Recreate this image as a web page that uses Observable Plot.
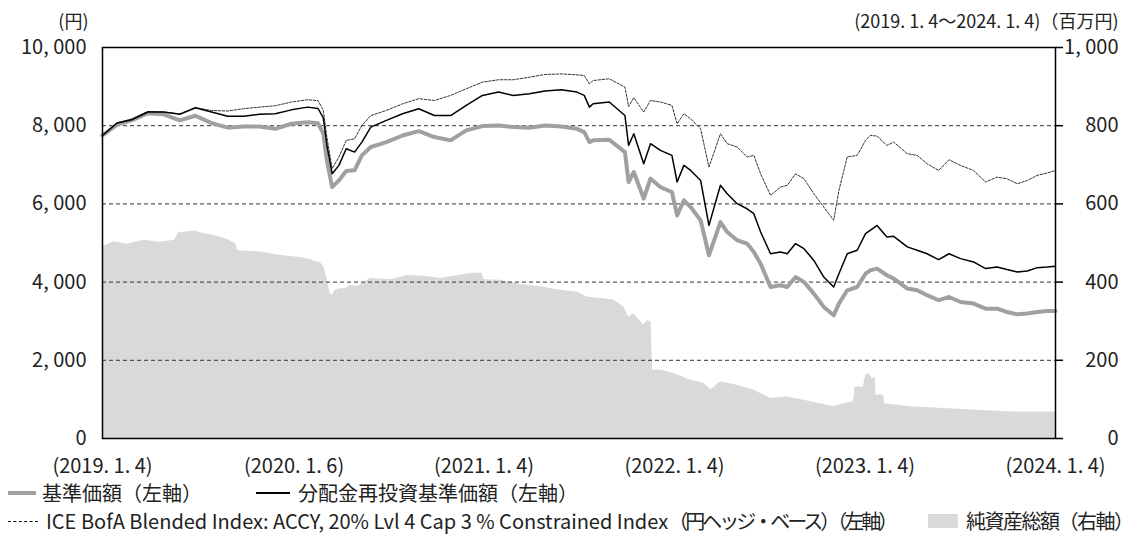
<!DOCTYPE html>
<html><head><meta charset="utf-8">
<script src="https://cdn.jsdelivr.net/npm/d3@7"></script>
<script src="https://cdn.jsdelivr.net/npm/@observablehq/plot@0.6"></script>
<style>
body{margin:0;background:#fff;font-family:"Noto Sans CJK JP","Noto Sans",sans-serif;}
#wrap{position:relative;width:1145px;height:546px;overflow:hidden;}
#chart{position:absolute;left:0;top:0;}
.lg{position:absolute;font-size:20px;color:#222;white-space:nowrap;line-height:24px;height:24px;}
.tight{letter-spacing:-3px;}
.sw{position:absolute;}
</style></head><body><div id="wrap"><div id="chart"></div>
<div class="sw" style="left:8px;top:491px;width:28px;height:4px;background:#a0a0a0"></div>
<div class="lg" style="left:42px;top:481px">基準価額（左軸）</div>
<div class="sw" style="left:256px;top:492px;width:34px;height:1.5px;background:#000"></div>
<div class="lg" style="left:298px;top:481px">分配金再投資基準価額（左軸）</div>
<div class="sw" style="left:8px;top:521px;width:30px;height:0;border-top:1px dashed #000"></div>
<div class="lg" style="left:46px;top:509px">ICE BofA Blended Index: ACCY, 20% Lvl 4 Cap 3 % Constrained Index<span class="tight">（円ヘッジ・ベース）（左軸）</span></div>
<div class="sw" style="left:928px;top:514px;width:30px;height:14px;background:#d9d9d9"></div>
<div class="lg" style="left:966px;top:509px;letter-spacing:-1.5px">純資産総額（右軸）</div>
</div>
<script>
// Shared sample dates for the three price lines
const dates = ["2019-01-04","2019-02-01","2019-03-01","2019-04-01","2019-05-01","2019-06-01","2019-07-01","2019-08-01","2019-09-01","2019-10-01","2019-11-01","2019-12-01",
"2020-01-01","2020-02-01","2020-02-21","2020-03-02","2020-03-09","2020-03-19","2020-04-01","2020-04-15","2020-05-01","2020-05-15","2020-06-01","2020-07-01","2020-08-01","2020-09-01","2020-10-01","2020-11-01","2020-12-01",
"2021-01-01","2021-02-01","2021-03-01","2021-04-01","2021-05-01","2021-06-01","2021-07-01","2021-07-15","2021-07-25","2021-08-01","2021-09-01","2021-10-01","2021-10-08","2021-10-18","2021-11-06","2021-11-19","2021-12-08","2021-12-30",
"2022-01-09","2022-01-22","2022-02-04","2022-02-23","2022-03-11","2022-04-02","2022-04-15","2022-05-04","2022-05-23","2022-06-05","2022-06-18","2022-07-07","2022-07-26","2022-08-08","2022-08-24","2022-09-09","2022-09-28","2022-10-17","2022-11-05","2022-11-15","2022-12-01","2022-12-20",
"2023-01-05","2023-01-14","2023-01-27","2023-02-15","2023-02-28","2023-03-26","2023-04-14","2023-05-03","2023-05-25","2023-06-14","2023-07-06","2023-07-31","2023-08-23","2023-09-14","2023-10-03","2023-10-23","2023-11-11","2023-11-30","2023-12-19","2024-01-04"];
// 基準価額 (yen)
const navPrice = [7750,8030,8135,8320,8290,8135,8255,8065,7950,7980,7980,7920,
8050,8090,8060,7800,7100,6430,6600,6840,6860,7240,7455,7580,7750,7860,7710,7625,7880,
7990,8005,7965,7945,8005,7980,7920,7835,7580,7625,7640,7325,6560,6815,6135,6645,6430,6305,
5705,6090,5920,5580,4685,5535,5280,5070,4985,4770,4470,3875,3920,3875,4130,4005,3705,3365,3150,3450,3790,3875,
4215,4300,4345,4175,4090,3835,3790,3665,3535,3620,3490,3450,3320,3320,3235,3175,3195,3235,3260,3260];
// 分配金再投資基準価額 (yen)
const reinvPrice = [7750,8070,8150,8350,8350,8290,8460,8350,8240,8240,8290,8305,
8405,8475,8440,8200,7500,6770,6985,7410,7325,7580,7965,8135,8305,8435,8260,8260,8520,
8775,8860,8775,8815,8885,8920,8860,8775,8475,8560,8605,8260,7495,7795,7025,7540,7370,7240,
6560,6985,6855,6600,5450,6475,6260,6005,5875,5750,5280,4725,4770,4725,4985,4855,4555,4130,3875,4215,4725,4815,
5240,5325,5450,5155,5170,4900,4815,4725,4575,4725,4600,4515,4345,4385,4320,4260,4285,4370,4385,4405];
// ICE BofA Blended Index (yen hedged, rebased)
const indexPrice = [7750,8070,8170,8365,8350,8305,8460,8390,8375,8435,8475,8510,
8605,8665,8640,8400,7700,6900,7200,7625,7665,8005,8260,8390,8560,8690,8645,8775,8945,
9115,9175,9175,9240,9310,9325,9300,9285,9070,9155,9200,8985,8490,8715,8350,8645,8605,8520,
8050,8305,8175,7920,6940,7795,7540,7455,7200,7240,6770,6220,6430,6475,6770,6645,6260,5920,5580,6345,7200,7240,
7625,7750,7735,7495,7580,7285,7240,7025,6855,7130,6985,6855,6560,6685,6645,6515,6600,6730,6790,6855];
// 純資産総額 (million yen)
const navDates = ["2019-01-04","2019-01-26","2019-02-20","2019-03-24","2019-04-25","2019-05-22","2019-05-30","2019-07-01","2019-07-11","2019-08-05","2019-08-31","2019-09-16","2019-09-20","2019-11-03","2019-12-11",
"2020-01-18","2020-02-07","2020-02-26","2020-03-03","2020-03-10","2020-03-15","2020-03-19","2020-03-25","2020-04-04","2020-04-14","2020-04-23","2020-05-06","2020-05-31","2020-07-09","2020-08-10","2020-09-11","2020-10-13","2020-11-14","2020-12-09","2020-12-31",
"2021-01-04","2021-02-05","2021-03-15","2021-04-22","2021-05-31","2021-07-01","2021-07-21","2021-08-15","2021-09-10","2021-09-29","2021-10-08","2021-10-18","2021-11-06","2021-11-13","2021-11-20","2021-11-23","2021-12-08",
"2022-01-03","2022-01-15","2022-02-04","2022-03-01","2022-03-15","2022-04-02","2022-05-04","2022-06-05","2022-07-07","2022-08-08","2022-09-09","2022-10-10","2022-11-05","2022-11-24","2022-12-13","2022-12-16",
"2023-01-01","2023-01-05","2023-01-12","2023-01-18","2023-01-24","2023-01-25","2023-02-09","2023-02-10","2023-04-01","2023-06-04","2023-08-07","2023-10-10","2024-01-04"];
const netAssets = [490,503,497,507,502,507,526,531,526,520,509,498,480,477,468,
463,457,449,439,405,371,366,379,383,383,392,388,409,406,417,415,409,417,422,423,
406,405,394,388,379,375,362,358,354,336,311,319,290,301,298,175,175,
166,160,149,141,125,145,136,124,102,106,98,89,81,89,94,132,
132,162,166,153,156,111,111,89,81,77,72,68,68];
// axes
const leftTicks = [0,2000,4000,6000,8000,10000];
const gridTicks = [2000,4000,6000,8000];
const xTickDates = ["2019-01-04","2020-01-06","2021-01-04","2022-01-04","2023-01-04","2024-01-04"];
const xTickLabels = ["(2019. 1. 4)","(2020. 1. 6)","(2021. 1. 4)","(2022. 1. 4)","(2023. 1. 4)","(2024. 1. 4)"];
const leftUnit = "(円)";
const rightUnit = "(2019. 1. 4～2024. 1. 4)（百万円)";

const parse = d3.utcParse("%Y-%m-%d");
const rows = dates.map((d,i)=>({date:parse(d), nav:navPrice[i], reinv:reinvPrice[i], idx:indexPrice[i]}));
const assetRows = navDates.map((d,i)=>({date:parse(d), v:netAssets[i]}));
const labelMap = new Map(xTickDates.map((d,i)=>[+parse(d), xTickLabels[i]]));
const fmt = d => d3.format(",")(d).replace(",", ", ");

const chart = Plot.plot({
  width:1145, height:482,
  marginLeft:102, marginRight:90, marginTop:47, marginBottom:44,
  style:{fontFamily:'"Noto Sans CJK JP","Noto Sans",sans-serif', fontSize:"20px", color:"#222", background:"white", overflow:"visible"},
  x:{type:"utc", domain:[parse("2019-01-04"), parse("2024-01-04")]},
  y:{domain:[0,10000]},
  marks:[
    Plot.areaY(assetRows, {x:"date", y:d=>d.v*10, fill:"#d9d9d9"}),
    Plot.ruleY(gridTicks, {stroke:"#333", strokeDasharray:"4,3", strokeWidth:1}),
    Plot.lineY(rows, {x:"date", y:"nav", stroke:"#a0a0a0", strokeWidth:4}),
    Plot.lineY(rows, {x:"date", y:"idx", stroke:"#000", strokeWidth:0.8, strokeDasharray:"2.5,1.5"}),
    Plot.lineY(rows, {x:"date", y:"reinv", stroke:"#000", strokeWidth:1.5}),
    Plot.frame({stroke:"#000", strokeWidth:1.5}),
    Plot.axisY({anchor:"left", ticks:leftTicks, tickFormat:fmt, tickSize:0, tickPadding:16, label:null}),
    Plot.axisY({anchor:"right", ticks:leftTicks, tickFormat:d=>fmt(d/10), tickSize:7, tickPadding:56, textAnchor:"end", stroke:"#000", strokeWidth:1.5, label:null}),
    Plot.axisX({ticks:xTickDates.map(parse), tickFormat:d=>labelMap.get(+d), tickSize:0, tickPadding:20, label:null}),
    Plot.text([leftUnit], {frameAnchor:"top-left", dx:-14, dy:-32, textAnchor:"end", fontSize:18}),
    Plot.text([rightUnit], {frameAnchor:"top-right", dx:63, dy:-32, textAnchor:"end", fontSize:18})
  ]
});
document.getElementById("chart").appendChild(chart);
</script></body></html>
